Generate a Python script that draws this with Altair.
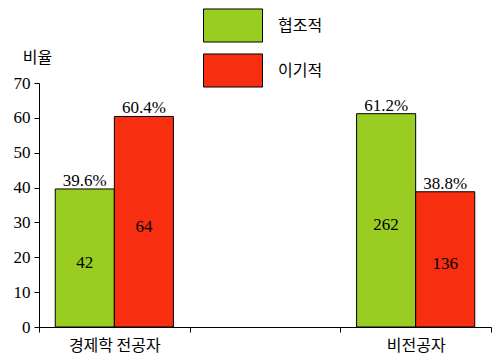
import altair as alt
import pandas as pd

groups = ["경제학 전공자", "경제학 전공자", "비전공자", "비전공자"]
types = ["협조적", "이기적", "협조적", "이기적"]
pct = [39.6, 60.4, 61.2, 38.8]
counts = [42, 64, 262, 136]

x_domain = ["경제학 전공자", "", "비전공자"]
type_domain = ["협조적", "이기적"]
colors = ["#9ACD21", "#F72E10"]
y_ticks = [0, 10, 20, 30, 40, 50, 60, 70]

df = pd.DataFrame({"group": groups, "type": types, "pct": pct, "count": counts})
df["pct_label"] = [f"{v:.1f}%" for v in pct]
df["half"] = [v / 2 for v in pct]

serif = "Liberation Serif"
kr = "Noto Sans CJK KR"

x_scale = alt.Scale(domain=x_domain, paddingInner=0, paddingOuter=0)
y_scale = alt.Scale(domain=[0, 70], nice=False)
x_axis = alt.Axis(
    title=None, labelAngle=0, tickBand="extent", tickSize=5,
    labelFont=kr, labelFontSize=16, labelColor="black", labelPadding=5,
    domainColor="black", tickColor="black", grid=False,
)
y_axis = alt.Axis(
    values=y_ticks, labelOverlap=False, title="비율", titleAngle=0,
    titleX=-2, titleY=-26,
    titleAlign="center", titleBaseline="middle", titleFont=kr,
    titleFontSize=16, titleFontWeight="normal", titleColor="black",
    labelFont=serif, labelFontSize=17, labelColor="black", labelPadding=4,
    tickSize=5, domainColor="black", tickColor="black", grid=False,
)
xo_enc = alt.XOffset(
    "type:N", scale=alt.Scale(domain=type_domain, paddingInner=0, paddingOuter=0.275)
)

base = alt.Chart(df)

bars = base.mark_bar(stroke="black", strokeWidth=1).encode(
    x=alt.X("group:N", scale=x_scale, axis=x_axis),
    xOffset=xo_enc,
    y=alt.Y("pct:Q", scale=y_scale, axis=y_axis),
    fill=alt.Fill(
        "type:N",
        scale=alt.Scale(domain=type_domain, range=colors),
        legend=alt.Legend(
            title=None, orient="none", legendX=164, legendY=-75,
            symbolType="M-1,-0.56L1,-0.56L1,0.56L-1,0.56Z",
            symbolSize=3481, clipHeight=35,
            symbolStrokeColor="black", symbolStrokeWidth=1, symbolOpacity=1,
            labelFont=kr, labelFontSize=16, labelColor="black", labelOffset=15,
            rowPadding=10,
        ),
    ),
)

pct_text = base.mark_text(font=serif, fontSize=17, color="black", dy=-3, baseline="alphabetic").encode(
    x=alt.X("group:N", scale=x_scale, axis=x_axis),
    xOffset=xo_enc,
    y=alt.Y("pct:Q", scale=y_scale, axis=y_axis),
    text="pct_label:N",
)

cnt_text = base.mark_text(font=serif, fontSize=17, color="black", dy=5, baseline="middle").encode(
    x=alt.X("group:N", scale=x_scale, axis=x_axis),
    xOffset=xo_enc,
    y=alt.Y("half:Q", scale=y_scale, axis=y_axis),
    text="count:Q",
)

chart = (
    alt.layer(bars, pct_text, cnt_text)
    .properties(
        width=452, height=244,
        autosize=alt.AutoSizeParams(type="none"),
        padding={"left": 31, "top": 75, "right": 1, "bottom": 28},
    )
    .configure_view(stroke=None)
    .configure_axisY(labelFont=serif, labelFontSize=17)
)

chart.save("out.html", embed_options={"renderer": "svg", "actions": False})
